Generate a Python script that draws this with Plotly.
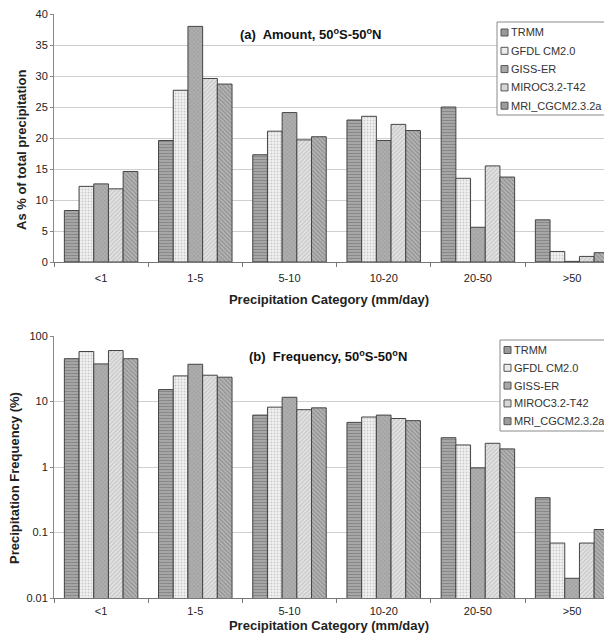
import plotly.graph_objects as go
from plotly.subplots import make_subplots

categories = ["<1", "1-5", "5-10", "10-20", "20-50", ">50"]
series_names = ["TRMM", "GFDL CM2.0", "GISS-ER", "MIROC3.2-T42", "MRI_CGCM2.3.2a"]

amount_trmm = [8.3, 19.6, 17.3, 22.9, 25.0, 6.8]
amount_gfdl = [12.2, 27.7, 21.1, 23.5, 13.5, 1.7]
amount_giss = [12.6, 38.0, 24.1, 19.6, 5.6, 0.1]
amount_miroc = [11.8, 29.6, 19.7, 22.2, 15.5, 0.9]
amount_mri = [14.6, 28.7, 20.2, 21.2, 13.7, 1.5]

freq_trmm = [45, 15.2, 6.2, 4.8, 2.8, 0.34]
freq_gfdl = [58, 24.6, 8.2, 5.8, 2.17, 0.069]
freq_giss = [37.5, 37, 11.6, 6.2, 0.97, 0.02]
freq_miroc = [60, 25.2, 7.5, 5.5, 2.3, 0.069]
freq_mri = [45, 23.5, 8.0, 5.1, 1.89, 0.111]

amount = [amount_trmm, amount_gfdl, amount_giss, amount_miroc, amount_mri]
freq = [freq_trmm, freq_gfdl, freq_giss, freq_miroc, freq_mri]

styles = [
    dict(bg="#a6a6a6", fg="#6a6a6a", shape="-", size=3, sol=0.35, sw="#9a9a9a"),
    dict(bg="#f2f2f2", fg="#a0a0a0", shape=".", size=3, sol=0.3, sw="#ececec"),
    dict(bg="#aeaeae", fg="#777777", shape="x", size=3, sol=0.25, sw="#a8a8a8"),
    dict(bg="#e2e2e2", fg="#9a9a9a", shape="/", size=3, sol=0.3, sw="#d6d6d6"),
    dict(bg="#b4b4b4", fg="#606060", shape="\\", size=3, sol=0.35, sw="#9c9c9c"),
]

# page body has an 8px default margin: keep the figure inside the window
OFF = 8
W, H = 612 - 2 * OFF, 643 - 2 * OFF
L, T = 54 - OFF, 14 - OFF
B = H - (598 - OFF)
PW = W - L
ph = H - T - B
top_dom = [(598 - 262) / ph, 1.0]
bot_dom = [0.0, (598 - 336) / ph]
CAT_PX = 94.2
XR = [-0.5, -0.5 + PW / CAT_PX]


def px(x):
    return (x - OFF - L) / PW


def py(y):
    return 1 - (y - OFF - T) / ph


fig = make_subplots(rows=2, cols=1, vertical_spacing=0.1)

for i, name in enumerate(series_names):
    s = styles[i]
    marker = dict(color=s["bg"], line=dict(color="#444", width=1),
                  pattern=dict(shape=s["shape"], fgcolor=s["fg"], bgcolor=s["bg"],
                               size=s["size"], solidity=s["sol"]))
    fig.add_trace(go.Bar(x=categories, y=amount[i], name=name, marker=marker,
                         showlegend=False), row=1, col=1)
    fig.add_trace(go.Bar(x=categories, y=freq[i], name=name, marker=marker,
                         showlegend=False), row=2, col=1)

font_family = "Liberation Sans, Arial, sans-serif"

fig.update_layout(
    width=W, height=H,
    margin=dict(l=L, r=0, t=T, b=B),
    paper_bgcolor="white", plot_bgcolor="white",
    barmode="group", bargap=0.22, bargroupgap=0.0,
    font=dict(family=font_family, size=11, color="#222"),
    showlegend=False,
)

xcommon = dict(range=XR, showline=True, linecolor="#777", linewidth=1,
               ticks="outside", tickson="boundaries", ticklen=4, tickcolor="#777",
               showgrid=False, tickfont=dict(size=11, color="#222"))
fig.update_xaxes(**xcommon)
fig.update_xaxes(row=1, col=1, domain=[0, 1], ticklabelstandoff=6,
                 title=dict(text="<b>Precipitation Category (mm/day)</b>",
                            font=dict(size=13, color="#222"), standoff=11))
fig.update_xaxes(row=2, col=1, domain=[0, 1], ticklabelstandoff=3,
                 title=dict(text="<b>Precipitation Category (mm/day)</b>",
                            font=dict(size=13, color="#222"), standoff=4))

fig.update_yaxes(row=1, col=1, domain=top_dom, range=[0, 40], dtick=5,
                 showline=True, linecolor="#888", ticks="outside", ticklen=3,
                 tickcolor="#888", gridcolor="#cfcfcf", zeroline=False,
                 ticklabeloverflow="allow",
                 tickfont=dict(size=11, color="#222"))
fig.update_yaxes(row=2, col=1, domain=bot_dom, type="log", range=[-2, 2],
                 tickvals=[0.01, 0.1, 1, 10, 100],
                 ticktext=["0.01", "0.1", "1", "10", "100"],
                 showline=True, linecolor="#888", ticks="outside", ticklen=3,
                 tickcolor="#888", gridcolor="#cfcfcf", zeroline=False,
                 ticklabeloverflow="allow",
                 tickfont=dict(size=11, color="#222"))

# y-axis titles
fig.add_annotation(text="<b>As % of total precipitation</b>", textangle=-90,
                   xref="paper", yref="paper", x=px(21), y=py(150),
                   xanchor="center", yanchor="middle", showarrow=False,
                   font=dict(size=13, color="#222"))
fig.add_annotation(text="<b>Precipitation Frequency (%)</b>", textangle=-90,
                   xref="paper", yref="paper", x=px(14), y=py(478),
                   xanchor="center", yanchor="middle", showarrow=False,
                   font=dict(size=13, color="#222"))

# panel titles
fig.add_annotation(text="<b>(a)  Amount, 50<sup>o</sup>S-50<sup>o</sup>N</b>",
                   xref="paper", yref="paper", x=px(238), y=py(34),
                   xanchor="left", yanchor="middle", showarrow=False,
                   font=dict(size=13, color="#111"))
fig.add_annotation(text="<b>(b)  Frequency, 50<sup>o</sup>S-50<sup>o</sup>N</b>",
                   xref="paper", yref="paper", x=px(247), y=py(356),
                   xanchor="left", yanchor="middle", showarrow=False,
                   font=dict(size=13, color="#111"))


# custom legends
def add_legend(box_x, box_y0, box_y1, first_y, step, sw_x, text_x):
    fig.add_shape(type="rect", xref="paper", yref="paper",
                  x0=px(box_x), x1=px(620), y0=py(box_y1), y1=py(box_y0),
                  line=dict(color="#8a8a8a", width=1), fillcolor="white", layer="above")
    for i, name in enumerate(series_names):
        yc = first_y + i * step
        fig.add_shape(type="rect", xref="paper", yref="paper",
                      x0=px(sw_x), x1=px(sw_x + 7), y0=py(yc + 3.5), y1=py(yc - 3.5),
                      line=dict(color="#555", width=1), fillcolor=styles[i]["sw"],
                      layer="above")
        fig.add_annotation(text=name, xref="paper", yref="paper",
                           x=px(text_x), y=py(yc), xanchor="left", yanchor="middle",
                           showarrow=False, font=dict(size=11, color="#333"))


add_legend(497, 22, 115, 32.5, 18.3, 501, 509)
add_legend(500, 340, 431, 350, 17.8, 504, 512)

fig.write_html("out.html")
